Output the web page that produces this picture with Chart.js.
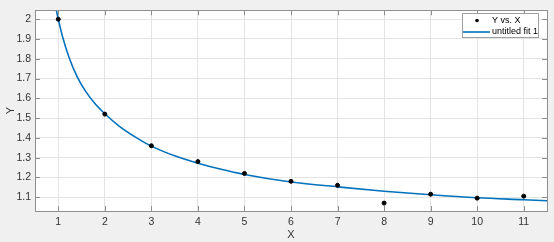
<!DOCTYPE html>
<html>
<head>
<meta charset="utf-8">
<script src="https://cdn.jsdelivr.net/npm/chart.js@4"></script>
<style>
    html, body { margin: 0; padding: 0; background: #f0f0f0; overflow: hidden; }
    canvas { display: block; }
</style>
</head>
<body>
<canvas id="chart" width="554" height="242"></canvas>
<script>
// Pontos medidos
const xValues = [1, 2, 3, 4, 5, 6, 7, 8, 9, 10, 11];
const yValues = [2.0, 1.52, 1.36, 1.28, 1.22, 1.18, 1.16, 1.07, 1.115, 1.095, 1.105];

// Curva ajustada
const fitX = [0.95, 1.0, 1.1, 1.23, 1.41, 1.6, 1.8, 2.0, 2.3, 2.65, 3.0, 3.5, 4.0, 4.5, 5.0, 6.0, 7.0, 8.0, 9.0, 10.0, 11.0, 11.5];
const fitY = [2.055, 2.0, 1.905, 1.808, 1.707, 1.631, 1.57, 1.522, 1.461, 1.405, 1.358, 1.309, 1.272, 1.241, 1.215, 1.177, 1.152, 1.13, 1.112, 1.097, 1.087, 1.082];

// Ticks
const xTicks = [1, 2, 3, 4, 5, 6, 7, 8, 9, 10, 11];
const yTicks = [1.1, 1.2, 1.3, 1.4, 1.5, 1.6, 1.7, 1.8, 1.9, 2];

const seriesNames = ['Y vs. X', 'untitled fit 1'];

const boxColor = '#8f8f8f';
const lineBlue = '#0072BD';
const textColor = '#333333';

// Fundo branco da área do gráfico, caixa, ticks para dentro e legenda
const axesBox = {
    id: 'axesBox',
    beforeDraw(chart) {
        const a = chart.chartArea;
        const ctx = chart.ctx;
        ctx.save();
        ctx.fillStyle = '#ffffff';
        ctx.fillRect(a.left, a.top, a.right - a.left, a.bottom - a.top);
        ctx.restore();
    },
    afterDraw(chart) {
        const a = chart.chartArea;
        const ctx = chart.ctx;
        const xs = chart.scales.x, ys = chart.scales.y;
        ctx.save();
        ctx.strokeStyle = boxColor;
        ctx.lineWidth = 1;
        ctx.beginPath();
        xTicks.forEach(v => {
            const px = Math.round(xs.getPixelForValue(v)) + 0.5;
            ctx.moveTo(px, a.bottom); ctx.lineTo(px, a.bottom - 5);
            ctx.moveTo(px, a.top); ctx.lineTo(px, a.top + 5);
        });
        yTicks.forEach(v => {
            const py = Math.round(ys.getPixelForValue(v)) + 0.5;
            ctx.moveTo(a.left, py); ctx.lineTo(a.left + 5, py);
            ctx.moveTo(a.right, py); ctx.lineTo(a.right - 5, py);
        });
        ctx.stroke();
        ctx.strokeRect(Math.round(a.left) + 0.5, Math.round(a.top) + 0.5,
            Math.round(a.right - a.left), Math.round(a.bottom - a.top));

        // Legenda
        const lx = 462, ly = 13, lw = 76, lh = 24;
        ctx.fillStyle = '#ffffff';
        ctx.fillRect(lx, ly, lw, lh);
        ctx.strokeStyle = '#a0a0a0';
        ctx.strokeRect(lx + 0.5, ly + 0.5, lw, lh);
        ctx.fillStyle = '#000000';
        ctx.beginPath();
        ctx.arc(477, 20.5, 1.8, 0, Math.PI * 2);
        ctx.fill();
        ctx.strokeStyle = lineBlue;
        ctx.lineWidth = 1.6;
        ctx.beginPath();
        ctx.moveTo(463, 32); ctx.lineTo(490, 32);
        ctx.stroke();
        ctx.fillStyle = '#000000';
        ctx.font = '9px "Liberation Sans", Arial, sans-serif';
        ctx.textBaseline = 'middle';
        ctx.fillText(seriesNames[0], 492, 20.5);
        ctx.fillText(seriesNames[1], 492, 31.5);
        ctx.restore();
    }
};

const chart = new Chart(document.getElementById('chart').getContext('2d'), {
    type: 'scatter',
    data: {
        datasets: [{
            label: seriesNames[0],
            data: xValues.map((x, i) => ({ x: x, y: yValues[i] })),
            backgroundColor: '#000000',
            borderColor: '#000000',
            pointRadius: 2,
            pointHoverRadius: 2,
            showLine: false,
            order: 0
        }, {
            label: seriesNames[1],
            data: fitX.map((x, i) => ({ x: x, y: fitY[i] })),
            borderColor: lineBlue,
            borderWidth: 1.6,
            pointRadius: 0,
            showLine: true,
            cubicInterpolationMode: 'monotone',
            fill: false,
            order: 1
        }]
    },
    options: {
        responsive: false,
        animation: false,
        devicePixelRatio: 1,
        layout: { padding: { top: 5, right: 7, left: 0, bottom: 0 } },
        plugins: {
            legend: { display: false },
            tooltip: { enabled: false }
        },
        scales: {
            x: {
                type: 'linear',
                min: 0.5,
                max: 11.5,
                afterBuildTicks: s => { s.ticks = xTicks.map(v => ({ value: v })); },
                afterFit: s => { s.height = 31; },
                grid: { color: '#e4e4e4', drawTicks: false },
                border: { display: false },
                ticks: {
                    autoSkip: false,
                    maxRotation: 0,
                    padding: 5,
                    color: textColor,
                    font: { family: '"Liberation Sans", Arial, sans-serif', size: 10.5 },
                    callback: v => String(v)
                },
                title: {
                    display: true,
                    text: 'X',
                    color: textColor,
                    padding: { top: 0, bottom: 0 },
                    font: { family: '"Liberation Sans", Arial, sans-serif', size: 11 }
                }
            },
            y: {
                type: 'linear',
                min: 1.03,
                max: 2.045,
                afterBuildTicks: s => { s.ticks = yTicks.map(v => ({ value: v })); },
                afterFit: s => { s.width = 35; },
                grid: { color: '#e4e4e4', drawTicks: false },
                border: { display: false },
                ticks: {
                    autoSkip: false,
                    padding: 4,
                    color: textColor,
                    font: { family: '"Liberation Sans", Arial, sans-serif', size: 10.5 },
                    callback: v => String(Math.round(v * 10) / 10)
                },
                title: {
                    display: true,
                    text: 'Y',
                    color: textColor,
                    padding: { top: 4, bottom: 0 },
                    font: { family: '"Liberation Sans", Arial, sans-serif', size: 11 }
                }
            }
        }
    },
    plugins: [axesBox]
});
</script>
</body>
</html>
